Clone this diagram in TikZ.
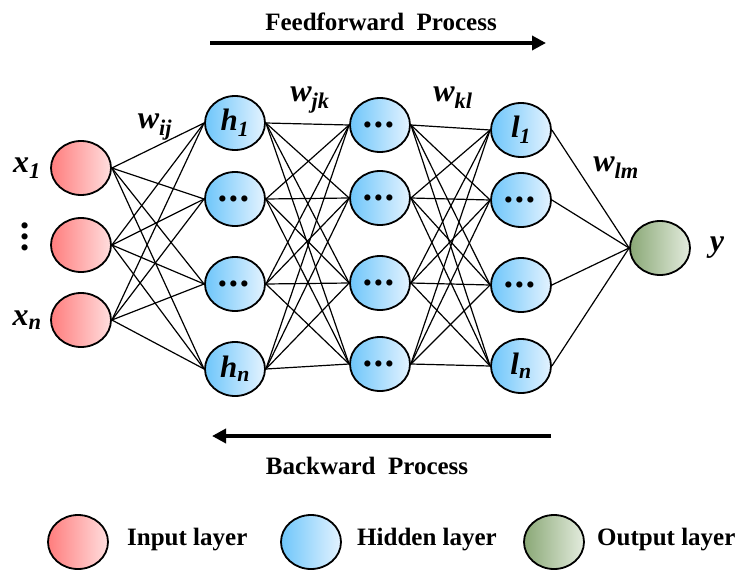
\documentclass[tikz,border=0pt]{standalone}
\usepackage{fontspec}
\setmainfont{Liberation Serif}
\usetikzlibrary{shapes.geometric, arrows.meta, positioning}

\definecolor{inleft}{RGB}{255,125,125}
\definecolor{inright}{RGB}{255,222,222}
\definecolor{hidleft}{RGB}{110,198,250}
\definecolor{hidright}{RGB}{228,243,255}
\definecolor{outleft}{RGB}{138,168,118}
\definecolor{outright}{RGB}{228,236,222}

\newcommand{\nvar}[2]{\textit{#1}\textsubscript{\textit{#2}}}
\newcommand{\nodedots}{{\fontsize{38}{40}\selectfont .\kern1.5pt.\kern1.5pt.}}

\begin{document}
\begin{tikzpicture}[
    x=1pt, y=-1pt,
    >=Latex,
    font=\bfseries\fontsize{25}{29}\selectfont,
    neuron/.style={
        draw, ellipse, line width=1.8pt,
        minimum width=60pt, minimum height=54pt, inner sep=0pt
    },
    inputn/.style={neuron, left color=inleft, right color=inright},
    hiddenn/.style={neuron, left color=hidleft, right color=hidright,
        font=\bfseries\itshape\fontsize{31}{33}\selectfont},
    outputn/.style={neuron, left color=outleft, right color=outright},
    sym/.style={font=\bfseries\itshape\fontsize{32}{34}\selectfont, inner sep=0pt},
    legendtext/.style={anchor=west, inner sep=0pt},
    link/.style={draw, line width=1.2pt},
    process/.style={draw, line width=3.5pt, -{Triangle[length=14pt, width=14pt]}}
]

\useasboundingbox (0,0) rectangle (741,570);

% ==========================================
% INPUT LAYER
% ==========================================

\node[inputn] (In1) at (81,168) {};
\node[inputn] (In2) at (81,245) {};
\node[inputn] (In3) at (81,320) {};

\node[sym] (X1) at (27,168) {\nvar{x}{1}};
\node[sym, rotate=-90] (XDots) at (25,238) {\nodedots};
\node[sym] (Xn) at (27,320) {\nvar{x}{n}};

% ==========================================
% HIDDEN LAYERS
% ==========================================

\node[hiddenn] (HA1) at (235,123) {\nvar{h}{1}};
\node[hiddenn] (HA2) at (235,199) {\nodedots};
\node[hiddenn] (HA3) at (235,284) {\nodedots};
\node[hiddenn] (HA4) at (235,369) {\nvar{h}{n}};

\node[hiddenn] (HB1) at (380,125) {\nodedots};
\node[hiddenn] (HB2) at (380,198) {\nodedots};
\node[hiddenn] (HB3) at (380,283) {\nodedots};
\node[hiddenn] (HB4) at (380,364) {\nodedots};

\node[hiddenn] (HC1) at (521,130) {\nvar{l}{1}};
\node[hiddenn] (HC2) at (521,200) {\nodedots};
\node[hiddenn] (HC3) at (521,285) {\nodedots};
\node[hiddenn] (HC4) at (521,366) {\nvar{l}{n}};

% ==========================================
% OUTPUT LAYER
% ==========================================

\node[outputn] (Out) at (660,248) {};
\node[sym] (Y) at (717,248) {y};

% ==========================================
% WEIGHTS
% ==========================================

\foreach \i in {1,2,3}
    \foreach \j in {1,...,4}
        \draw[link] (In\i.east) -- (HA\j.west);
\foreach \i in {1,...,4}
    \foreach \j in {1,...,4} {
        \draw[link] (HA\i.east) -- (HB\j.west);
        \draw[link] (HB\i.east) -- (HC\j.west);
    }
\foreach \i in {1,...,4}
    \draw[link] (HC\i.east) -- (Out.west);

\node[sym] (Wij) at (155,127) {\nvar{w}{ij}};
\node[sym] (Wjk) at (310,100) {\nvar{w}{jk}};
\node[sym] (Wkl) at (453,98) {\nvar{w}{kl}};
\node[sym] (Wlm) at (616,168) {\nvar{w}{lm}};

% ==========================================
% PROCESS ARROWS
% ==========================================

\coordinate (FFstart) at (210,43);
\coordinate (FFend) at (546,43);
\draw[process] (FFstart) -- (FFend);
\node (FFtext) at (381,22) {Feedforward\ \ Process};

\coordinate (BPstart) at (551,436);
\coordinate (BPend) at (212,436);
\draw[process] (BPstart) -- (BPend);
\node (BPtext) at (367,466) {Backward\ \ Process};

% ==========================================
% LEGEND
% ==========================================

\node[inputn] (LegIn) at (78,542) {};
\node[legendtext] (LegInText) at (127,540) {Input layer};

\node[hiddenn] (LegHid) at (311,542) {};
\node[legendtext] (LegHidText) at (357,540) {Hidden layer};

\node[outputn] (LegOut) at (554,542) {};
\node[legendtext] (LegOutText) at (597,540) {Output layer};

\end{tikzpicture}
\end{document}
